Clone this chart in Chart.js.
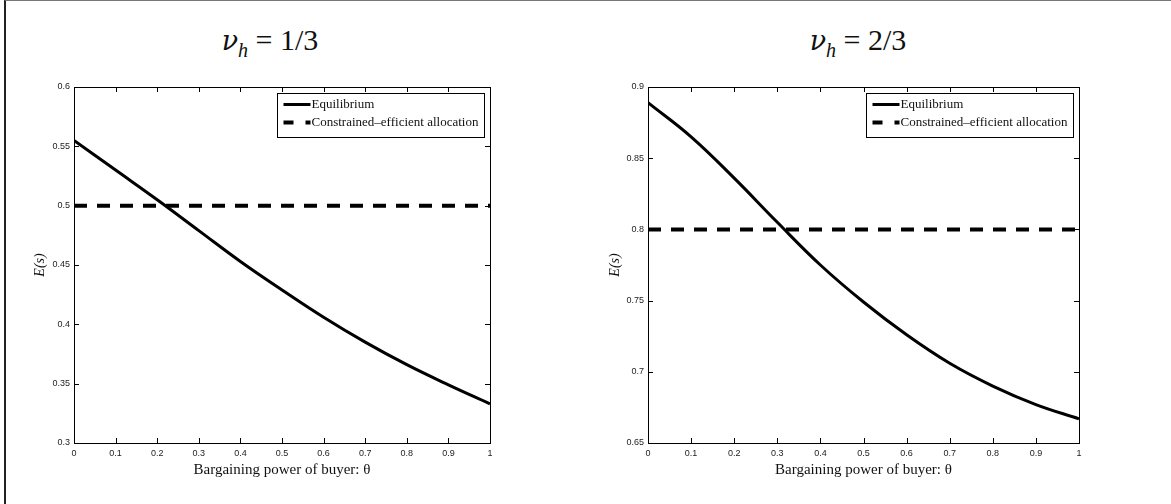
<!DOCTYPE html>
<html>
<head>
<meta charset="utf-8">
<script src="https://cdn.jsdelivr.net/npm/chart.js@4.4.1/dist/chart.umd.min.js"></script>
<style>
  html, body { margin: 0; padding: 0; background: #fff; }
  #page { position: relative; width: 1171px; height: 504px; overflow: hidden; }
  #frame { position: absolute; left: 4px; top: 0; width: 1167px; height: 504px;
           border-left: 2px solid #222; border-top: 1px solid #777; box-sizing: border-box; }
  .panel { position: absolute; top: 0; }
  .ttl { position: absolute; top: 24px; width: 300px; text-align: center;
         font-family: "Liberation Serif", serif; font-size: 30px; line-height: 32px; color: #111; }
  .ttl .nu { font-family: "DejaVu Serif", serif; font-style: italic; font-size: 27px; }
  .ttl sub { font-size: 20px; vertical-align: -7px; line-height: 0; font-style: italic; }
</style>
</head>
<body>
<div id="page">
  <div id="frame"></div>
  <div class="ttl" style="left:120px"><span class="nu">ν</span><sub>h</sub> = 1/3</div>
  <div class="ttl" style="left:708px"><span class="nu">ν</span><sub>h</sub> = 2/3</div>
  <canvas id="leftChart" class="panel" style="left:0" width="585" height="504"></canvas>
  <canvas id="rightChart" class="panel" style="left:585px" width="586" height="504"></canvas>
</div>

<script>
// bargaining power of buyer
const theta = [0, 0.1, 0.2, 0.3, 0.4, 0.5, 0.6, 0.7, 0.8, 0.9, 1];

// nu_h = 1/3
const eqLeft = [0.555, 0.530, 0.505, 0.479, 0.453, 0.429, 0.406, 0.385, 0.366, 0.349, 0.333];
const effLeft = [0.5, 0.5];

// nu_h = 2/3
const eqRight = [0.889, 0.865, 0.836, 0.805, 0.775, 0.749, 0.726, 0.706, 0.690, 0.677, 0.667];
const effRight = [0.8, 0.8];

const effTheta = [0, 1];

// tick labels
const xTicks = [0, 0.1, 0.2, 0.3, 0.4, 0.5, 0.6, 0.7, 0.8, 0.9, 1];
const yTicksLeft = [0.3, 0.35, 0.4, 0.45, 0.5, 0.55, 0.6];
const yTicksRight = [0.65, 0.7, 0.75, 0.8, 0.85, 0.9];

const seriesNames = ["Equilibrium", "Constrained\u2013efficient allocation"];


// matlab style: plain numbers like 0.5, 0.35, 1
function tickText(v) {
    return String(Math.round(v * 100) / 100);
}


// inward ticks on all four sides, box, and legend in the upper right
const matlabFrame = {
    id: "matlabFrame",
    afterDatasetsDraw(chart) {
        const { ctx, chartArea: a, scales: { x, y } } = chart;
        ctx.save();
        ctx.strokeStyle = "#000";
        ctx.lineWidth = 1;
        ctx.beginPath();
        x.ticks.forEach(t => {
            const px = Math.round(x.getPixelForValue(t.value)) + 0.5;
            ctx.moveTo(px, a.bottom); ctx.lineTo(px, a.bottom - 5);
            ctx.moveTo(px, a.top); ctx.lineTo(px, a.top + 5);
        });
        y.ticks.forEach(t => {
            const py = Math.round(y.getPixelForValue(t.value)) + 0.5;
            ctx.moveTo(a.left, py); ctx.lineTo(a.left + 5, py);
            ctx.moveTo(a.right, py); ctx.lineTo(a.right - 5, py);
        });
        ctx.stroke();
        ctx.strokeRect(Math.round(a.left) + 0.5, Math.round(a.top) + 0.5,
                       Math.round(a.width), Math.round(a.height));

        // legend
        ctx.font = '13px "Liberation Serif"';
        const ds = chart.data.datasets;
        let tw = 0;
        ds.forEach(d => { tw = Math.max(tw, ctx.measureText(d.label).width); });
        const sample = 27;
        const w = Math.round(6 + sample + 2 + tw + 5);
        const h = 44;
        const bx = Math.round(a.right - 6 - w) + 0.5;
        const by = Math.round(a.top + 6) + 0.5;
        ctx.fillStyle = "#fff";
        ctx.fillRect(bx, by, w, h);
        ctx.strokeRect(bx, by, w, h);
        ds.forEach((d, i) => {
            const ly = by + 11 + i * 18;
            ctx.save();
            ctx.lineWidth = d.borderWidth;
            ctx.setLineDash(d.borderDash ? [10, 12] : []);
            ctx.beginPath();
            ctx.moveTo(bx + 6, ly);
            ctx.lineTo(bx + 6 + sample, ly);
            ctx.stroke();
            ctx.restore();
            ctx.fillStyle = "#111";
            ctx.textBaseline = "middle";
            ctx.fillText(d.label, bx + 6 + sample + 1, ly);
        });
        ctx.restore();
    }
};


function makeChart(id, eq, eff, yTicks, yWidth, yTitlePad, padRight) {

    return new Chart(
        document.getElementById(id),
        {
            type: "line",

            data: {
                datasets: [{
                    label: seriesNames[0],
                    data: theta.map((t, i) => ({ x: t, y: eq[i] })),
                    borderColor: "#000",
                    borderWidth: 3,
                    pointRadius: 0,
                    tension: 0.4
                }, {
                    label: seriesNames[1],
                    data: effTheta.map((t, i) => ({ x: t, y: eff[i] })),
                    borderColor: "#000",
                    borderWidth: 4,
                    borderDash: [13, 10],
                    pointRadius: 0
                }]
            },

            options: {
                responsive: false,
                animation: false,
                devicePixelRatio: 1,
                layout: {
                    padding: { top: 87, right: padRight, left: 0, bottom: 0 }
                },
                plugins: {
                    legend: { display: false },
                    tooltip: { enabled: false }
                },
                scales: {
                    x: {
                        type: "linear",
                        min: 0,
                        max: 1,
                        afterBuildTicks: s => { s.ticks = xTicks.map(v => ({ value: v })); },
                        afterFit: s => { s.height = 61; },
                        border: { display: false },
                        grid: { display: false, drawTicks: false },
                        ticks: {
                            padding: 5,
                            color: "#222",
                            callback: tickText,
                            font: { family: "Liberation Sans", size: 9 }
                        },
                        title: {
                            display: true,
                            text: "Bargaining power of buyer: \u03b8",
                            color: "#111",
                            padding: { top: 0, bottom: 25 },
                            font: { family: "Liberation Serif", size: 15 }
                        }
                    },
                    y: {
                        min: yTicks[0],
                        max: yTicks[yTicks.length - 1],
                        afterBuildTicks: s => { s.ticks = yTicks.map(v => ({ value: v })); },
                        afterFit: s => { s.width = yWidth; },
                        border: { display: false },
                        grid: { display: false, drawTicks: false },
                        ticks: {
                            padding: 4,
                            color: "#222",
                            callback: tickText,
                            font: { family: "Liberation Sans", size: 9 }
                        },
                        title: {
                            display: true,
                            text: "E(s)",
                            color: "#111",
                            padding: { top: yTitlePad, bottom: 0 },
                            font: { family: "Liberation Serif", size: 14, style: "italic" }
                        }
                    }
                }
            },

            plugins: [matlabFrame]
        }
    );

}


makeChart("leftChart", eqLeft, effLeft, yTicksLeft, 74, 32, 95);
makeChart("rightChart", eqRight, effRight, yTicksRight, 63, 22, 92);
</script>
</body>
</html>
